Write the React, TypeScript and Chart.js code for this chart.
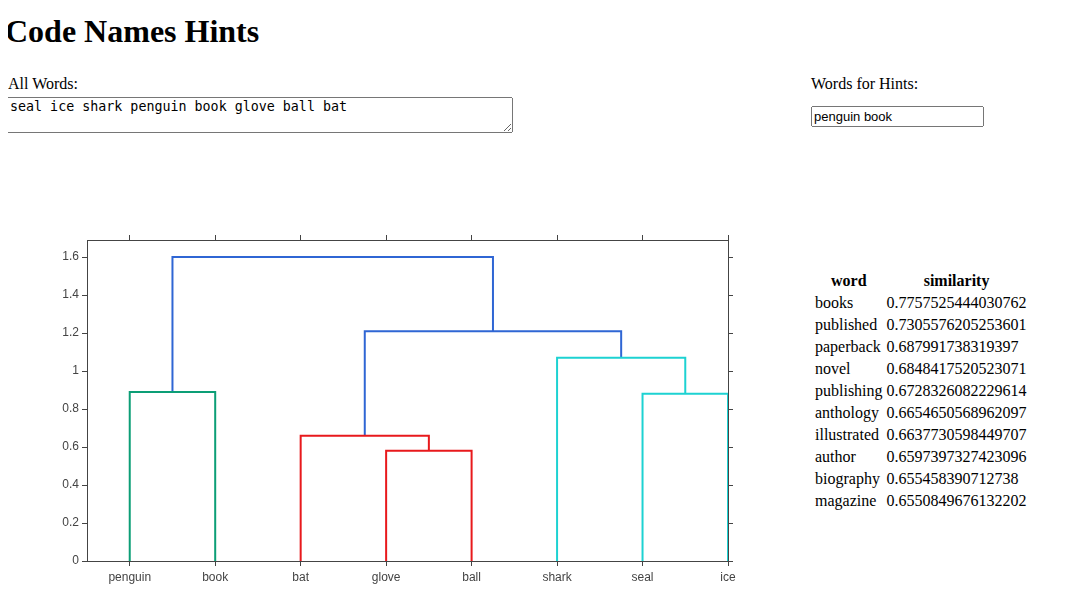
import React, { useEffect, useRef } from 'react';
import { Chart, registerables } from 'chart.js';

Chart.register(...registerables);

const words = ['penguin', 'book', 'bat', 'glove', 'ball', 'shark', 'seal', 'ice'];
const yTicks = [0, 0.2, 0.4, 0.6, 0.8, 1, 1.2, 1.4, 1.6];

// dendrogram links (x in leaf index units)
const linkLeftX = [0, 3, 2, 6, 5, 2.75, 0.5];
const linkRightX = [1, 4, 3.5, 7, 6.5, 5.75, 4.25];
const linkHeight = [0.89, 0.58, 0.66, 0.88, 1.07, 1.21, 1.6];
const linkLeftBottom = [0, 0, 0, 0, 0, 0.66, 0.89];
const linkRightBottom = [0, 0, 0.58, 0, 0.88, 1.07, 1.21];
const linkColor = ['#0c9e76', '#e8191c', '#e8191c', '#1dd2d2', '#1dd2d2', '#2f66d4', '#2f66d4'];

const hintWords = ['books', 'published', 'paperback', 'novel', 'publishing', 'anthology', 'illustrated', 'author', 'biography', 'magazine'];
const hintScores = ['0.7757525444030762', '0.7305576205253601', '0.687991738319397', '0.6848417520523071', '0.6728326082229614', '0.6654650568962097', '0.6637730598449707', '0.6597397327423096', '0.655458390712738', '0.6550849676132202'];

const Dendrogram: React.FC = () => {
  const ref = useRef<HTMLCanvasElement>(null);
  useEffect(() => {
    if (!ref.current) return;
    const datasets = linkLeftX.map((xl, i) => ({
      data: [
        { x: xl, y: linkLeftBottom[i] },
        { x: xl, y: linkHeight[i] },
        { x: linkRightX[i], y: linkHeight[i] },
        { x: linkRightX[i], y: linkRightBottom[i] },
      ],
      borderColor: linkColor[i],
      borderWidth: 2,
      pointRadius: 0,
      fill: false,
      tension: 0,
    }));
    const tickFont = { family: 'Liberation Sans, Arial, sans-serif', size: 12 };
    const chart = new Chart(ref.current, {
      type: 'line',
      data: { datasets },
      options: {
        animation: false,
        responsive: false,
        plugins: { legend: { display: false }, tooltip: { enabled: false } },
        layout: { padding: 0 },
        scales: {
          x: {
            type: 'linear', position: 'bottom', min: -0.5, max: 7,
            afterBuildTicks: (s: any) => { s.ticks = words.map((_, i) => ({ value: i })); },
            afterFit: (s: any) => { s.height = 39; },
            ticks: { callback: (v: any) => words[v] ?? '', color: '#444', font: tickFont, maxRotation: 0, padding: 4 },
            grid: { drawOnChartArea: false, tickLength: 5, color: '#444' },
            border: { color: '#444' },
          },
          x2: {
            type: 'linear', position: 'top', min: -0.5, max: 7,
            afterBuildTicks: (s: any) => { s.ticks = words.map((_, i) => ({ value: i })); },
            afterFit: (s: any) => { s.height = 15; },
            ticks: { display: false },
            grid: { drawOnChartArea: false, tickLength: 5, color: '#444' },
            border: { color: '#444' },
          },
          y: {
            type: 'linear', position: 'left', min: 0, max: 1.69,
            afterBuildTicks: (s: any) => { s.ticks = yTicks.map(v => ({ value: v })); },
            afterFit: (s: any) => { s.width = 47; },
            ticks: { callback: (v: any) => String(Math.round(v * 10) / 10), color: '#444', font: tickFont, padding: 3 },
            grid: { drawOnChartArea: false, tickLength: 5, color: '#444' },
            border: { color: '#444' },
          },
          y2: {
            type: 'linear', position: 'right', min: 0, max: 1.69,
            afterBuildTicks: (s: any) => { s.ticks = yTicks.map(v => ({ value: v })); },
            afterFit: (s: any) => { s.width = 32; },
            ticks: { display: false },
            grid: { drawOnChartArea: false, tickLength: 5, color: '#444' },
            border: { color: '#444' },
          },
        },
      },
    } as any);
    return () => chart.destroy();
  }, []);
  return <canvas ref={ref} width={720} height={375} style={{ position: 'absolute', left: 40, top: 225 }} />;
};

export default function App() {
  const serif = "'Liberation Serif', 'Times New Roman', serif";
  return (
    <div style={{ position: 'relative', width: 1065, height: 610, fontFamily: serif, margin: -8 }}>
      <h1 style={{ position: 'absolute', left: 5, top: 13, margin: 0, fontSize: 32 }}>Code Names Hints</h1>
      <div style={{ position: 'absolute', left: 8, top: 75, fontSize: 16 }}>All Words:</div>
      <textarea
        defaultValue="seal ice shark penguin book glove ball bat"
        style={{ position: 'absolute', left: 7, top: 97, width: 506, height: 36, boxSizing: 'border-box', fontFamily: "'DejaVu Sans Mono', monospace", fontSize: 13.33, paddingTop: 1 }}
      />
      <div style={{ position: 'absolute', left: 811, top: 75, fontSize: 16 }}>Words for Hints:</div>
      <input
        defaultValue="penguin book"
        style={{ position: 'absolute', left: 811, top: 106, width: 173, height: 21, boxSizing: 'border-box', fontFamily: "'Liberation Sans', Arial, sans-serif", fontSize: 13, padding: '1px 1px' }}
      />
      <Dendrogram />
      <table style={{ position: 'absolute', left: 812, top: 269, fontSize: 16, fontFamily: serif }}>
        <thead>
          <tr><th>word</th><th>similarity</th></tr>
        </thead>
        <tbody>
          {hintWords.map((w, i) => (
            <tr key={w}><td>{w}</td><td>{hintScores[i]}</td></tr>
          ))}
        </tbody>
      </table>
    </div>
  );
}
